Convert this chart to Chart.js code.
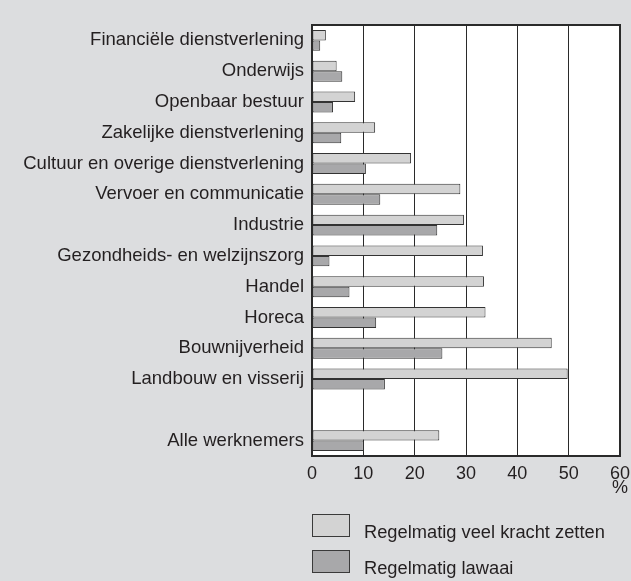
<!DOCTYPE html>
<html lang="nl">
<head>
    <meta charset="UTF-8">
    <title>Kracht en lawaai per sector</title>
    <style>
        body {
            margin: 0;
            background-color: #dcdddf;
            font-family: "Liberation Sans", Arial, sans-serif;
            color: #231f20;
        }
        .wrap {
            position: relative;
            width: 631px;
            height: 581px;
        }
        .unit {
            position: absolute;
            left: 612px;
            top: 477px;
            font-size: 18px;
        }
        .legend-item {
            position: absolute;
            left: 312px;
            height: 23px;
            font-size: 18.3px;
            line-height: 23px;
        }
        .legend-item span.box {
            position: absolute;
            left: 0;
            top: 0;
            width: 36px;
            height: 21px;
            border: 1px solid #3a3a3a;
        }
        .legend-item span.label {
            position: absolute;
            left: 52px;
            top: 6px;
            white-space: nowrap;
        }
    </style>
    <script src="https://cdn.jsdelivr.net/npm/chart.js"></script>
</head>
<body>
    <div class="wrap">
        <canvas id="chart" width="631" height="581"></canvas>
        <div class="unit">%</div>
        <div class="legend-item" style="top: 514px;">
            <span class="box" style="background: #d3d3d3;"></span>
            <span class="label">Regelmatig veel kracht zetten</span>
        </div>
        <div class="legend-item" style="top: 550px;">
            <span class="box" style="background: #a8a8aa;"></span>
            <span class="label">Regelmatig lawaai</span>
        </div>
    </div>

    <script>
        // Sectoren (lege regel tussen Landbouw en Alle werknemers)
        const categories = [
            'Financiële dienstverlening',
            'Onderwijs',
            'Openbaar bestuur',
            'Zakelijke dienstverlening',
            'Cultuur en overige dienstverlening',
            'Vervoer en communicatie',
            'Industrie',
            'Gezondheids- en welzijnszorg',
            'Handel',
            'Horeca',
            'Bouwnijverheid',
            'Landbouw en visserij',
            '',
            'Alle werknemers'
        ];

        // % werknemers
        const krachtZetten = [2.7, 4.8, 8.4, 12.3, 19.3, 28.9, 29.6, 33.3, 33.5, 33.8, 46.7, 49.8, null, 24.8];
        const lawaai = [1.6, 5.9, 4.1, 5.7, 10.5, 13.3, 24.4, 3.4, 7.3, 12.5, 25.4, 14.2, null, 10.1];

        const xTicks = [0, 10, 20, 30, 40, 50, 60];

        const textColor = '#231f20';

        // draws the box round the plot area
        const frame = {
            id: 'frame',
            afterDraw(chart) {
                const a = chart.chartArea;
                const c = chart.ctx;
                c.save();
                c.strokeStyle = '#2a2a2a';
                c.lineWidth = 2;
                c.strokeRect(a.left, a.top, a.right - a.left, a.bottom - a.top);
                c.restore();
            }
        };

        // white plot background
        const plotBg = {
            id: 'plotBg',
            beforeDraw(chart) {
                const a = chart.chartArea;
                const c = chart.ctx;
                c.save();
                c.fillStyle = '#ffffff';
                c.fillRect(a.left, a.top, a.right - a.left, a.bottom - a.top);
                c.restore();
            }
        };

        const ctx = document.getElementById('chart').getContext('2d');
        new Chart(ctx, {
            type: 'bar',
            data: {
                labels: categories,
                datasets: [{
                    label: 'Regelmatig veel kracht zetten',
                    data: krachtZetten,
                    backgroundColor: '#d3d3d3',
                    borderColor: '#333333',
                    borderWidth: 1,
                    borderSkipped: false
                }, {
                    label: 'Regelmatig lawaai',
                    data: lawaai,
                    backgroundColor: '#a8a8aa',
                    borderColor: '#333333',
                    borderWidth: 1,
                    borderSkipped: false
                }]
            },
            options: {
                indexAxis: 'y',
                responsive: false,
                animation: false,
                layout: {
                    padding: { top: 25, right: 11, bottom: 85, left: 0 }
                },
                datasets: {
                    bar: {
                        categoryPercentage: 0.68,
                        barPercentage: 1
                    }
                },
                plugins: {
                    legend: { display: false },
                    tooltip: { enabled: false }
                },
                scales: {
                    x: {
                        min: 0,
                        max: 60,
                        afterBuildTicks(scale) {
                            scale.ticks = xTicks.map(v => ({ value: v }));
                        },
                        afterFit(scale) {
                            scale.height = 40;
                            scale.paddingRight = 0;
                            scale.paddingLeft = 0;
                        },
                        grid: {
                            color: '#2a2a2a',
                            lineWidth: 1,
                            drawTicks: false
                        },
                        border: { display: false },
                        ticks: {
                            color: textColor,
                            padding: 7,
                            font: { family: 'Liberation Sans', size: 18 }
                        }
                    },
                    y: {
                        afterFit(scale) {
                            scale.width = 312;
                        },
                        grid: { display: false, drawTicks: false },
                        border: { display: false },
                        ticks: {
                            color: textColor,
                            padding: 8,
                            autoSkip: false,
                            font: { family: 'Liberation Sans', size: 18.5 }
                        }
                    }
                }
            },
            plugins: [plotBg, frame]
        });
    </script>
</body>
</html>
